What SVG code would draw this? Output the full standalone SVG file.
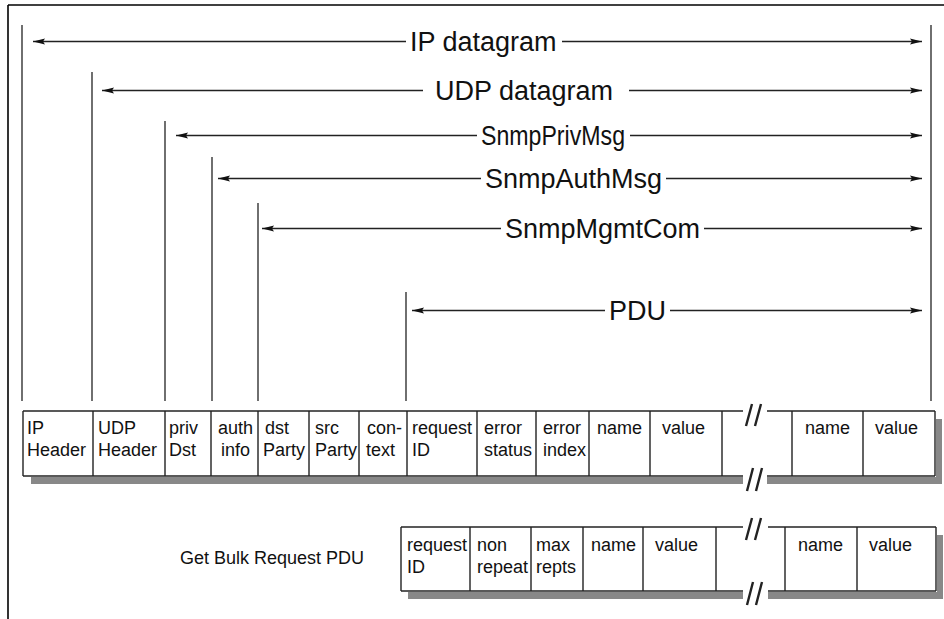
<svg xmlns="http://www.w3.org/2000/svg" width="944" height="619" viewBox="0 0 944 619">
<style>
.frame{stroke:#000;stroke-width:1.6;fill:none}
.v{stroke:#333;stroke-width:1.4;fill:none}
.arr{stroke:#222;stroke-width:1.4;fill:none;marker-end:url(#ah)}
.lbl{font-family:"Liberation Sans",Arial,sans-serif;font-size:27px;fill:#111}
.cell{font-family:"Liberation Sans",Arial,sans-serif;font-size:18px;fill:#111}
.box{stroke:#222;stroke-width:1.4;fill:none}
.shadow{fill:#888}
.brk{stroke:#222;stroke-width:2.4;fill:none}
</style>
<defs>
<marker id="ah" markerUnits="userSpaceOnUse" markerWidth="13" markerHeight="8" refX="12" refY="4" orient="auto">
<path d="M0,1 L12,4 L0,7 L2,4 z" fill="#111"/>
</marker>
</defs>
<rect x="0" y="0" width="944" height="619" fill="#fff"/>
<g id="frame">
<line class="frame" x1="8" y1="5" x2="944" y2="5"/>
<line class="frame" x1="8" y1="5" x2="8" y2="619"/>
</g>
<g id="boundaries">
<line class="v" x1="22" y1="25" x2="22" y2="401"/>
<line class="v" x1="92" y1="72" x2="92" y2="401"/>
<line class="v" x1="165" y1="121" x2="165" y2="401"/>
<line class="v" x1="212" y1="157" x2="212" y2="401"/>
<line class="v" x1="258" y1="203" x2="258" y2="401"/>
<line class="v" x1="406" y1="292" x2="406" y2="401"/>
<line class="v" x1="931" y1="25" x2="931" y2="401"/>
</g>
<g id="connectors">
<line class="arr" x1="406" y1="41.5" x2="33" y2="41.5"/>
<line class="arr" x1="562" y1="41.5" x2="922" y2="41.5"/>
<line class="arr" x1="423" y1="90.5" x2="102" y2="90.5"/>
<line class="arr" x1="629" y1="90.5" x2="922" y2="90.5"/>
<line class="arr" x1="477" y1="135.5" x2="176" y2="135.5"/>
<line class="arr" x1="630" y1="135.5" x2="922" y2="135.5"/>
<line class="arr" x1="481" y1="178.5" x2="218" y2="178.5"/>
<line class="arr" x1="666" y1="178.5" x2="922" y2="178.5"/>
<line class="arr" x1="501" y1="228.5" x2="262" y2="228.5"/>
<line class="arr" x1="704" y1="228.5" x2="922" y2="228.5"/>
<line class="arr" x1="605" y1="310.5" x2="412" y2="310.5"/>
<line class="arr" x1="670" y1="310.5" x2="922" y2="310.5"/>
</g>
<g id="labels">
<text class="lbl" x="410" y="51">IP datagram</text>
<text class="lbl" x="435" y="100">UDP datagram</text>
<text class="lbl" x="481" y="145" textLength="144" lengthAdjust="spacingAndGlyphs">SnmpPrivMsg</text>
<text class="lbl" x="485" y="188">SnmpAuthMsg</text>
<text class="lbl" x="505" y="238">SnmpMgmtCom</text>
<text class="lbl" x="609" y="320">PDU</text>
</g>
<g id="main-table">
<rect class="shadow" x="31" y="477" width="712" height="7"/>
<rect class="shadow" x="767" y="477" width="175" height="7"/>
<rect class="shadow" x="936" y="419" width="6" height="65"/>
<line class="box" x1="23" y1="411" x2="743" y2="411"/>
<line class="box" x1="767" y1="411" x2="935" y2="411"/>
<line class="box" x1="23" y1="476" x2="743" y2="476"/>
<line class="box" x1="767" y1="476" x2="935" y2="476"/>
<line class="box" x1="23" y1="411" x2="23" y2="476"/>
<line class="box" x1="935" y1="411" x2="935" y2="476"/>
<path class="box" d="M93,411V476M165,411V476M211,411V476M258,411V476M309,411V476M359,411V476M407,411V476M477,411V476M536,411V476M589,411V476M650,411V476M722,411V476M792,411V476M863,411V476"/>
<path class="brk" d="M746,426L752,404M755,426L761,404M747,491L753,468M756,491L762,468"/>
<text class="cell" x="27" y="434">IP</text><text class="cell" x="27" y="456">Header</text>
<text class="cell" x="98" y="434">UDP</text><text class="cell" x="98" y="456">Header</text>
<text class="cell" x="169" y="434">priv</text><text class="cell" x="169" y="456">Dst</text>
<text class="cell" x="218" y="434">auth</text><text class="cell" x="221" y="456">info</text>
<text class="cell" x="265" y="434">dst</text><text class="cell" x="263" y="456">Party</text>
<text class="cell" x="315" y="434">src</text><text class="cell" x="315" y="456">Party</text>
<text class="cell" x="367" y="434">con-</text><text class="cell" x="366" y="456">text</text>
<text class="cell" x="412" y="434">request</text><text class="cell" x="412" y="456">ID</text>
<text class="cell" x="484" y="434">error</text><text class="cell" x="484" y="456">status</text>
<text class="cell" x="543" y="434">error</text><text class="cell" x="543" y="456">index</text>
<text class="cell" x="597" y="434">name</text>
<text class="cell" x="662" y="434">value</text>
<text class="cell" x="805" y="434">name</text>
<text class="cell" x="875" y="434">value</text>
</g>
<g id="getbulk-label">
<text class="cell" x="180" y="564">Get Bulk Request PDU</text>
</g>
<g id="getbulk-table">
<rect class="shadow" x="408" y="592" width="335" height="7"/>
<rect class="shadow" x="768" y="592" width="175" height="7"/>
<rect class="shadow" x="937" y="535" width="6" height="64"/>
<line class="box" x1="401" y1="527" x2="743" y2="527"/>
<line class="box" x1="768" y1="527" x2="936" y2="527"/>
<line class="box" x1="401" y1="591" x2="743" y2="591"/>
<line class="box" x1="768" y1="591" x2="936" y2="591"/>
<line class="box" x1="401" y1="527" x2="401" y2="591"/>
<line class="box" x1="936" y1="527" x2="936" y2="591"/>
<path class="box" d="M470,527V591M531,527V591M583,527V591M643,527V591M716,527V591M785,527V591M857,527V591"/>
<path class="brk" d="M746,540L752,518M755,540L761,518M747,605L753,582M756,605L762,582"/>
<text class="cell" x="407" y="551">request</text><text class="cell" x="407" y="573">ID</text>
<text class="cell" x="477" y="551">non</text><text class="cell" x="477" y="573">repeat</text>
<text class="cell" x="536" y="551">max</text><text class="cell" x="536" y="573">repts</text>
<text class="cell" x="591" y="551">name</text>
<text class="cell" x="655" y="551">value</text>
<text class="cell" x="798" y="551">name</text>
<text class="cell" x="869" y="551">value</text>
</g>
</svg>
